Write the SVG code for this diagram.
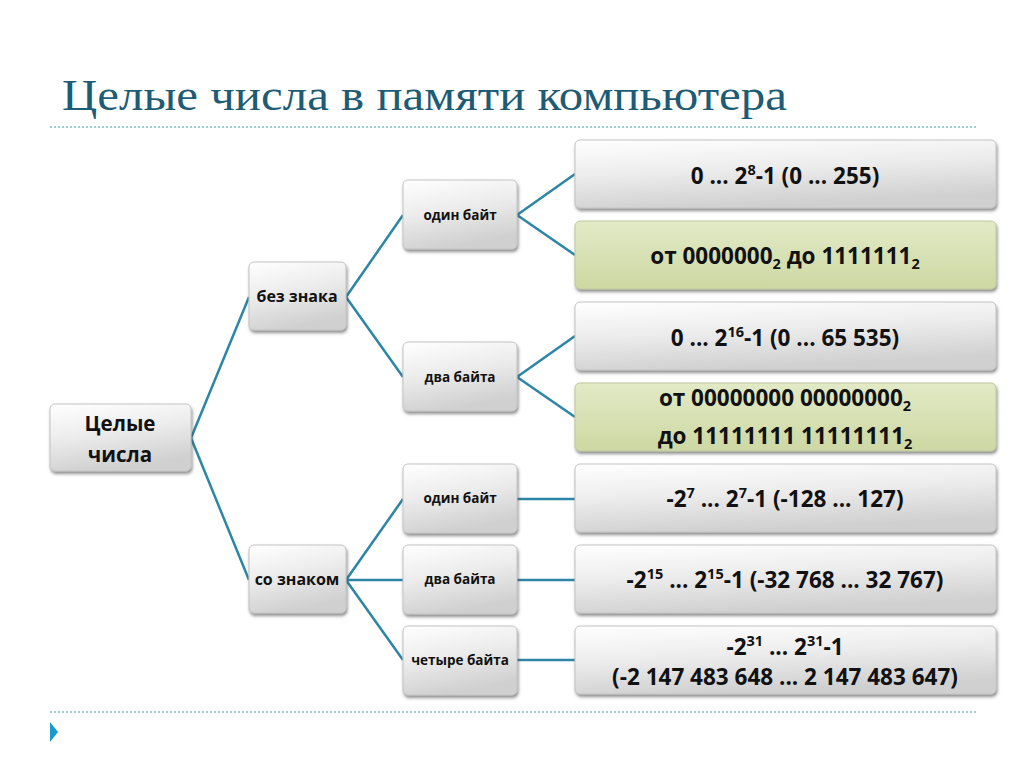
<svg xmlns="http://www.w3.org/2000/svg" width="1024" height="767" viewBox="0 0 1024 767">
<defs>
<linearGradient id="g" x1="0" y1="0" x2="0.3" y2="1">
<stop offset="0" stop-color="#ffffff"/>
<stop offset="0.5" stop-color="#ececec"/>
<stop offset="1" stop-color="#d0d0d0"/>
</linearGradient>
<linearGradient id="gg" x1="0" y1="0" x2="0" y2="1">
<stop offset="0" stop-color="#e2eac6"/>
<stop offset="1" stop-color="#cdd8a3"/>
</linearGradient>
<filter id="sh" x="-10%" y="-10%" width="125%" height="135%">
<feDropShadow dx="1" dy="2.5" stdDeviation="1.8" flood-color="#444" flood-opacity="0.6"/>
</filter>
<style>
.box{fill:url(#g);stroke:#c4c4c4;stroke-width:1;filter:url(#sh)}
.gbox{fill:url(#gg);stroke:#c0c8a0;stroke-width:1;filter:url(#sh)}
.t{font-family:"Open Sans","Liberation Sans",sans-serif;font-weight:bold;fill:#111;text-anchor:middle}
.s{font-size:13.5px}
.m{font-size:16px}
.r{font-size:20.5px}
.l{font-size:22.5px}
.c{fill:none;stroke:#2c86a6;stroke-width:2.5}
.dot{stroke:#3a9bb5;stroke-width:1.2;stroke-dasharray:2 2}
</style>
</defs>
<rect width="1024" height="767" fill="#ffffff"/>
<text x="62" y="110" font-family="Liberation Serif, serif" font-size="44" fill="#1d5c74" textLength="725" lengthAdjust="spacingAndGlyphs">Целые числа в памяти компьютера</text>
<line class="dot" x1="50" y1="127" x2="976" y2="127"/>
<line class="dot" x1="50" y1="712" x2="976" y2="712"/>
<polygon points="50,722 58,732 50,742" fill="#1a9bcf"/>

<g id="connectors">
<path class="c" d="M191,438 L249,297 M191,438 L249,580"/>
<path class="c" d="M346,297 L403,215 M346,297 L403,377"/>
<path class="c" d="M517,215 L575,174 M517,215 L575,255"/>
<path class="c" d="M517,377 L575,336 M517,377 L575,417"/>
<path class="c" d="M346,580 L403,499 M346,580 L403,580 M346,580 L403,660"/>
<path class="c" d="M517,499 L575,499 M517,580 L575,580 M517,660 L575,660"/>
</g>

<g id="n-root"><rect class="box" x="50" y="404" width="141" height="67" rx="5"/>
<text class="t r" x="120" y="431">Целые</text><text class="t r" x="120" y="462">числа</text></g>

<g id="n-unsigned"><rect class="box" x="249" y="262" width="97" height="68" rx="5"/>
<text class="t m" x="297" y="302">без знака</text></g>
<g id="n-signed"><rect class="box" x="249" y="545" width="97" height="68" rx="5"/>
<text class="t m" x="297" y="585">со знаком</text></g>

<g id="n-u1"><rect class="box" x="403" y="180" width="114" height="69" rx="5"/>
<text class="t s" x="460" y="220">один байт</text></g>
<g id="n-u2"><rect class="box" x="403" y="342" width="114" height="69" rx="5"/>
<text class="t s" x="460" y="382">два байта</text></g>
<g id="n-s1"><rect class="box" x="403" y="464" width="114" height="69" rx="5"/>
<text class="t s" x="460" y="503">один байт</text></g>
<g id="n-s2"><rect class="box" x="403" y="545" width="114" height="69" rx="5"/>
<text class="t s" x="460" y="584">два байта</text></g>
<g id="n-s4"><rect class="box" x="403" y="626" width="114" height="69" rx="5"/>
<text class="t s" x="460" y="665">четыре байта</text></g>

<g id="r1"><rect class="box" x="575" y="140" width="421" height="68" rx="5"/>
<text class="t l" x="785" y="184">0 ... 2<tspan font-size="14.5" dy="-9">8</tspan><tspan dy="9">-1 (0 ... 255)</tspan></text></g>
<g id="r2"><rect class="gbox" x="575" y="221" width="421" height="68" rx="5"/>
<text class="t l" x="785" y="264">от 0000000<tspan font-size="14.5" dy="5">2</tspan><tspan dy="-5"> до 1111111</tspan><tspan font-size="14.5" dy="5">2</tspan></text></g>
<g id="r3"><rect class="box" x="575" y="302" width="421" height="68" rx="5"/>
<text class="t l" x="785" y="346">0 ... 2<tspan font-size="14.5" dy="-9">16</tspan><tspan dy="9">-1 (0 ... 65 535)</tspan></text></g>
<g id="r4"><rect class="gbox" x="575" y="383" width="421" height="68" rx="5"/>
<text class="t l" x="785" y="406">от 00000000 00000000<tspan font-size="14.5" dy="5">2</tspan></text>
<text class="t l" x="785" y="444">до 11111111 11111111<tspan font-size="14.5" dy="5">2</tspan></text></g>
<g id="r5"><rect class="box" x="575" y="464" width="421" height="68" rx="5"/>
<text class="t l" x="785" y="507">-2<tspan font-size="14.5" dy="-9">7</tspan><tspan dy="9"> ... 2</tspan><tspan font-size="14.5" dy="-9">7</tspan><tspan dy="9">-1 (-128 ... 127)</tspan></text></g>
<g id="r6"><rect class="box" x="575" y="545" width="421" height="68" rx="5"/>
<text class="t l" x="785" y="588">-2<tspan font-size="14.5" dy="-9">15</tspan><tspan dy="9"> ... 2</tspan><tspan font-size="14.5" dy="-9">15</tspan><tspan dy="9">-1 (-32 768 ... 32 767)</tspan></text></g>
<g id="r7"><rect class="box" x="575" y="626" width="421" height="68" rx="5"/>
<text class="t l" x="785" y="655">-2<tspan font-size="14.5" dy="-9">31</tspan><tspan dy="9"> ... 2</tspan><tspan font-size="14.5" dy="-9">31</tspan><tspan dy="9">-1</tspan></text>
<text class="t l" x="785" y="685">(-2 147 483 648 ... 2 147 483 647)</text></g>
</svg>
